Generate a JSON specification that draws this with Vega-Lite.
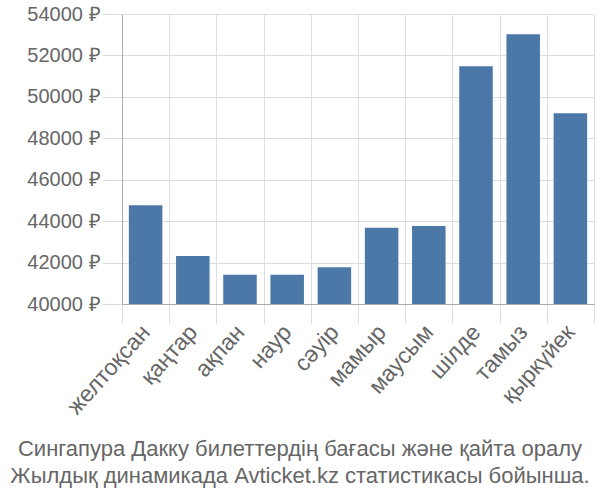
{
  "$schema": "https://vega.github.io/schema/vega-lite/v6.json",
  "autosize": "none",
  "width": 472,
  "height": 290,
  "padding": {"left": 122, "top": 14, "right": 6, "bottom": 196},
  "background": "white",
  "config": {
    "font": "Liberation Sans",
    "view": {"stroke": null}
  },
  "title": {
    "text": ["Сингапура Дакку билеттердің бағасы және қайта оралу", "Жылдық динамикада Avticket.kz статистикасы бойынша."],
    "orient": "bottom",
    "anchor": "middle",
    "dx": -58,
    "offset": 21,
    "fontSize": 22,
    "fontWeight": "normal",
    "color": "#666666",
    "lineHeight": 27
  },
  "data": {
    "values": [
      {"month": "желтоқсан", "price": 44765},
      {"month": "қаңтар", "price": 42320},
      {"month": "ақпан", "price": 41415},
      {"month": "наур", "price": 41415},
      {"month": "сәуір", "price": 41770},
      {"month": "мамыр", "price": 43685},
      {"month": "маусым", "price": 43770},
      {"month": "шілде", "price": 51475},
      {"month": "тамыз", "price": 53020},
      {"month": "қыркүйек", "price": 49205}
    ]
  },
  "mark": {"type": "bar", "width": {"band": 0.71}, "color": "#4c78a8"},
  "encoding": {
    "x": {
      "field": "month",
      "type": "nominal",
      "sort": null,
      "scale": {"paddingInner": 0, "paddingOuter": 0},
      "axis": {
        "title": null,
        "tickBand": "extent",
        "grid": true,
        "gridColor": "#dddddd",
        "tickColor": "#dddddd",
        "tickSize": 19,
        "domainColor": "#aaaaaa",
        "labelAngle": -48,
        "labelAlign": "right",
        "labelBaseline": "middle",
        "labelFontSize": 23,
        "labelColor": "#666666",
        "labelPadding": 5
      }
    },
    "y": {
      "field": "price",
      "type": "quantitative",
      "scale": {"domain": [40000, 54000], "zero": false, "nice": false},
      "axis": {
        "title": null,
        "values": [40000, 42000, 44000, 46000, 48000, 50000, 52000, 54000],
        "labelExpr": "format(datum.value, 'd') + ' ₽'",
        "grid": true,
        "gridColor": "#dddddd",
        "tickColor": "#dddddd",
        "tickSize": 20,
        "domainColor": "#aaaaaa",
        "labelFontSize": 20,
        "labelColor": "#666666",
        "labelPadding": 2
      }
    },
    "y2": {"datum": 40000}
  }
}
